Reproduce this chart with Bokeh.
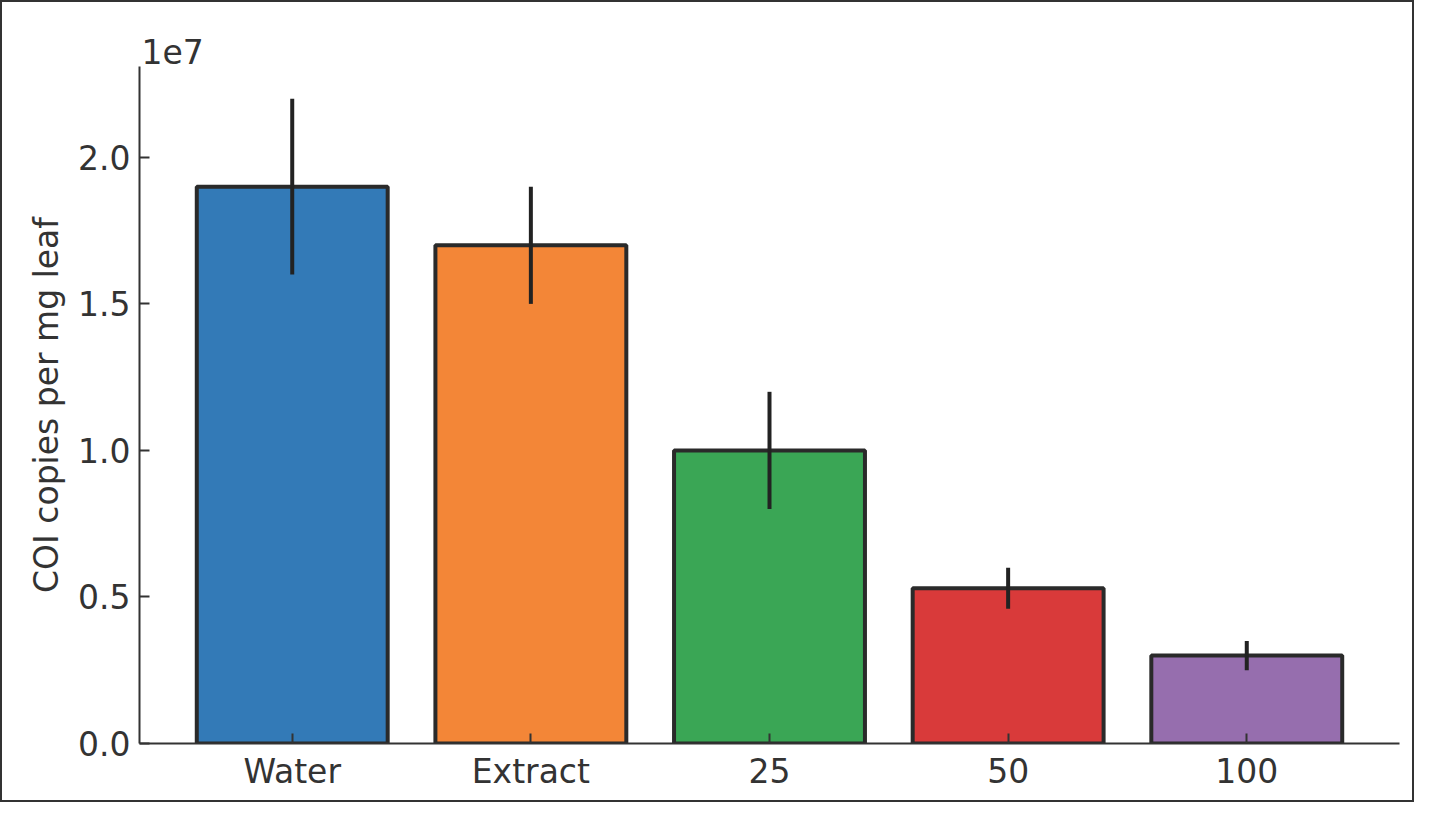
from bokeh.plotting import figure
from bokeh.models import FactorRange, Range1d, FixedTicker, ColumnDataSource
from bokeh.embed import file_html
from bokeh.resources import INLINE

categories = ["Water", "Extract", "25", "50", "100"]
values = [1.9e7, 1.7e7, 1.0e7, 0.53e7, 0.30e7]
err_low = [1.6e7, 1.5e7, 0.8e7, 0.46e7, 0.25e7]
err_high = [2.2e7, 1.9e7, 1.2e7, 0.60e7, 0.35e7]
colors = ["#337ab7", "#f38637", "#3aa655", "#d93a3a", "#966eae"]
y_ticks = [0, 0.5e7, 1.0e7, 1.5e7, 2.0e7]
y_tick_labels = ["0.0", "0.5", "1.0", "1.5", "2.0"]

FONT = "DejaVu Sans"
TXT = "#333333"

src = ColumnDataSource(dict(cat=categories, val=values, lo=err_low, hi=err_high, col=colors))

p = figure(
    width=1414, height=802,
    x_range=FactorRange(factors=categories, range_padding=0.14, range_padding_units="absolute"),
    y_range=Range1d(0, 2.31e7),
    output_backend="svg", toolbar_location=None,
    min_border_left=137, min_border_right=17, min_border_top=64, min_border_bottom=61,
    title="1e7",
)
p.styles = {"border": "2px solid #333333", "box-sizing": "border-box"}

p.vbar(x="cat", top="val", width=0.8, source=src, fill_color="col",
       line_color="#2a2a2a", line_width=4)
p.segment(x0="cat", y0="lo", x1="cat", y1="hi", source=src, line_color="#222222", line_width=4)

p.grid.visible = False
p.outline_line_color = None
p.background_fill_color = "white"
p.border_fill_color = "white"

p.title.text_font = FONT
p.title.text_font_size = "33px"
p.title.text_font_style = "normal"
p.title.text_color = TXT
p.title.align = "left"
p.title.offset = 2
p.title.standoff = 6

for ax in (p.xaxis[0], p.yaxis[0]):
    ax.axis_line_color = TXT
    ax.axis_line_width = 2
    ax.major_tick_line_color = TXT
    ax.major_tick_line_width = 2
    ax.major_tick_in = 10
    ax.major_tick_out = 0
    ax.minor_tick_line_color = None
    ax.major_label_text_font = FONT
    ax.major_label_text_font_size = "33px"
    ax.major_label_text_color = TXT

p.xaxis.major_label_standoff = 8
p.yaxis.major_label_standoff = 9
p.yaxis.ticker = FixedTicker(ticks=y_ticks)
p.yaxis.major_label_overrides = {t: l for t, l in zip(y_ticks, y_tick_labels)}
p.yaxis.axis_label = "COI copies per mg leaf"
p.yaxis.axis_label_text_font = FONT
p.yaxis.axis_label_text_font_size = "33px"
p.yaxis.axis_label_text_font_style = "normal"
p.yaxis.axis_label_text_color = TXT
p.yaxis.axis_label_standoff = 9

open("out.html", "w").write(file_html(p, INLINE))
